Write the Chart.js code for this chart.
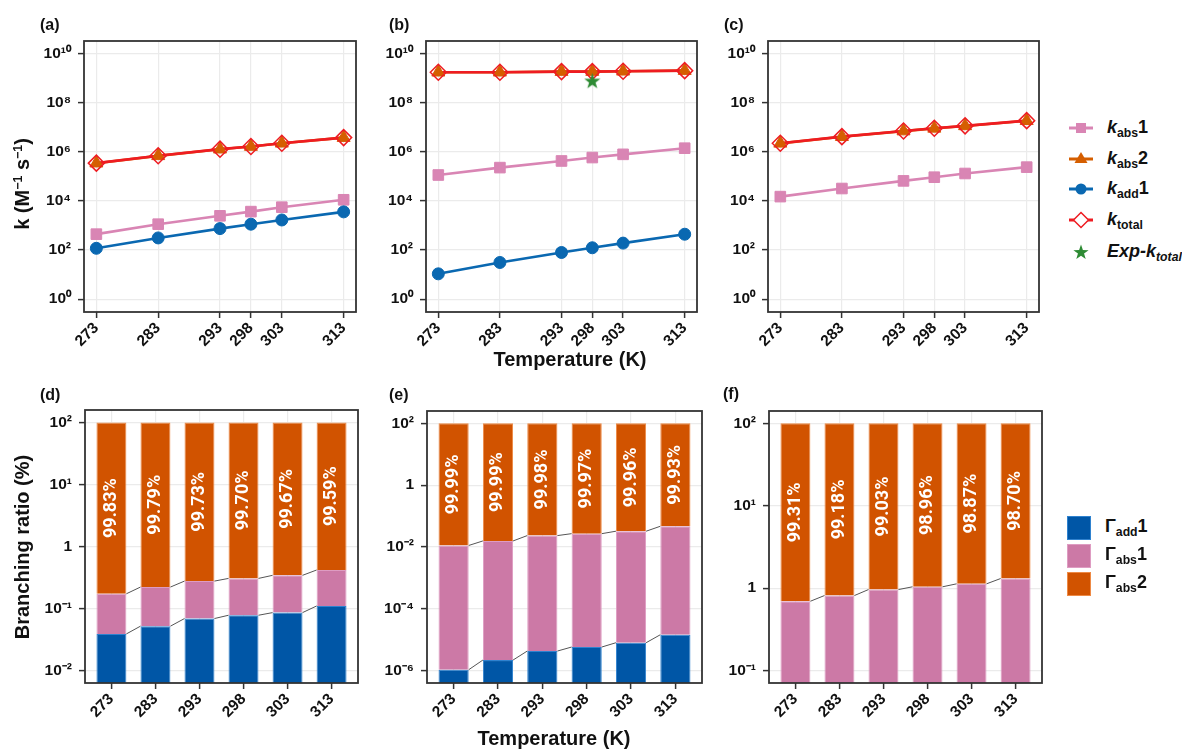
<!DOCTYPE html>
<html><head><meta charset="utf-8">
<script src="https://cdn.jsdelivr.net/npm/chart.js@4.4.1/dist/chart.umd.min.js"></script>
<style>
html,body{margin:0;padding:0;background:#fff;}
body{width:1182px;height:754px;position:relative;overflow:hidden;font-family:"Liberation Sans",Arial,Helvetica,sans-serif;font-weight:bold;color:#111;}
.cv{position:absolute;}
.t{position:absolute;white-space:nowrap;line-height:1;transform:translate(0,-50%);}
.pl{font-size:16px;}
.xt{font-size:20px;transform:translate(-50%,-50%);}
.yt{font-size:20px;transform:translate(-50%,-50%) rotate(-90deg);}
.yt sup{font-size:0.62em;vertical-align:0.55em;}
.row{position:absolute;display:flex;align-items:center;height:26px;font-size:18px;white-space:nowrap;}
.row sub{font-size:0.68em;vertical-align:-0.3em;}
.row i{font-style:italic;}
</style>
</head><body>
<script>
// ---------------- DATA ----------------
const temps = [273, 283, 293, 298, 303, 313];

const kTicks = [1, 1e2, 1e4, 1e6, 1e8, 1e10];
const kTickLabels = ['10⁰', '10²', '10⁴', '10⁶', '10⁸', '10¹⁰'];

// panel (a)
const a_kabs1  = [440, 1120, 2450, 3630, 5500, 11000];
const a_kabs2  = [3.38e5, 6.74e5, 1.25e6, 1.61e6, 2.18e6, 3.70e6];
const a_kadd1  = [117, 309, 741, 1120, 1660, 3550];
const a_ktotal = [3.40e5, 6.77e5, 1.26e6, 1.62e6, 2.19e6, 3.72e6];
// panel (b)
const b_kabs1  = [1.12e5, 2.24e5, 4.17e5, 5.75e5, 7.76e5, 1.38e6];
const b_kabs2  = [1.69e9, 1.69e9, 1.80e9, 1.80e9, 1.85e9, 1.97e9];
const b_kadd1  = [10.7, 31, 79, 123, 190, 437];
const b_ktotal = [1.69e9, 1.69e9, 1.80e9, 1.80e9, 1.85e9, 1.97e9];
const b_expT = [298];
const b_expK = [7.6e8];
// panel (c)
const c_kabs1  = [1.48e4, 3.16e4, 6.46e4, 9.12e4, 1.29e5, 2.34e5];
const c_kabs2  = [2.17e6, 4.04e6, 6.85e6, 8.82e6, 1.11e7, 1.80e7];
const c_ktotal = [2.19e6, 4.07e6, 6.92e6, 8.91e6, 1.12e7, 1.82e7];

// branching ratios (%)
const d_add1 = [0.039, 0.052, 0.069, 0.078, 0.086, 0.11];
const d_abs1 = [0.134, 0.170, 0.208, 0.228, 0.257, 0.308];
const d_abs2 = [99.83, 99.79, 99.73, 99.70, 99.67, 99.59];
const d_ticks = [1e-2, 1e-1, 1, 10, 100];
const d_tickLabels = ['10⁻²', '10⁻¹', '1', '10¹', '10²'];

const e_add1 = [1.07e-6, 2.2e-6, 4.3e-6, 5.8e-6, 8.0e-6, 1.45e-5];
const e_abs1 = [0.0112, 0.0157, 0.0234, 0.0270, 0.0324, 0.0468];
const e_abs2 = [99.99, 99.99, 99.98, 99.97, 99.96, 99.93];
const e_ticks = [1e-6, 1e-4, 1e-2, 1, 100];
const e_tickLabels = ['10⁻⁶', '10⁻⁴', '10⁻²', '1', '10²'];

const f_add1 = [null, null, null, null, null, null];
const f_abs1 = [0.695, 0.815, 0.963, 1.04, 1.13, 1.31];
const f_abs2 = [99.31, 99.18, 99.03, 98.96, 98.87, 98.70];
const f_ticks = [0.1, 1, 10, 100];
const f_tickLabels = ['10⁻¹', '1', '10¹', '10²'];

// ---------------- STYLE / LAYOUT ----------------
const FONT = '"Liberation Sans", Arial, Helvetica, sans-serif';
const COL = {pink:'#D985B4', orange:'#D55E00', blue:'#0A68B1', red:'#EE1C22', green:'#2E8B34',
             barBlue:'#0056A6', barPink:'#CC79A6', barOrange:'#D15300'};
const GEOM = {a:[84,41,356,312], b:[426,41,697,312], c:[768,41,1039,312],
              d:[85,410,358,683], e:[427,411,702,683], f:[769,411,1042,683]};
const YW = 80, PT = 30, PR = 24, XH = 60;

function makeCanvas(id){
  const [L,T,R,B] = GEOM[id];
  const c = document.createElement('canvas');
  c.width = YW + (R-L) + PR; c.height = PT + (B-T) + XH;
  c.className = 'cv';
  c.style.left = (L-YW)+'px'; c.style.top = (T-PT)+'px';
  c.style.width = c.width+'px'; c.style.height = c.height+'px';
  document.body.appendChild(c);
  return c;
}

const boxPlugin = {id:'box', afterDraw(chart){
  const {ctx, chartArea:a} = chart;
  ctx.save(); ctx.strokeStyle = '#333'; ctx.lineWidth = 1.8;
  ctx.strokeRect(a.left, a.top, a.right-a.left, a.bottom-a.top); ctx.restore();
}};

const linkPlugin = {id:'links', afterDatasetsDraw(chart){
  const ctx = chart.ctx;
  ctx.save(); ctx.strokeStyle = '#555'; ctx.lineWidth = 1;
  chart.data.datasets.forEach((ds, di) => {
    if (!ds.link) return;
    const els = chart.getDatasetMeta(di).data;
    for (let i = 0; i < els.length-1; i++){
      if (ds.data[i].y == null || ds.data[i+1].y == null) continue;
      const a = els[i], b = els[i+1];
      ctx.beginPath();
      ctx.moveTo(a.x + a.width/2, Math.min(a.y, a.base));
      ctx.lineTo(b.x - b.width/2, Math.min(b.y, b.base));
      ctx.stroke();
    }
  });
  ctx.restore();
}};

const pctPlugin = {id:'pct', afterDatasetsDraw(chart){
  const ctx = chart.ctx, ys = chart.scales.y;
  chart.data.datasets.forEach((ds, di) => {
    if (!ds.pct) return;
    chart.getDatasetMeta(di).data.forEach((el, i) => {
      const [lo, hi] = ds.data[i].y;
      const py = ys.getPixelForValue(Math.sqrt(lo*hi));
      ctx.save(); ctx.translate(el.x, py); ctx.rotate(-Math.PI/2);
      ctx.fillStyle = '#fff'; ctx.font = 'bold 18px Roboto, "Liberation Sans", sans-serif';
      ctx.textAlign = 'center'; ctx.textBaseline = 'middle';
      ctx.fillText(ds.pct[i].toFixed(2) + '%', 0, 0);
      ctx.restore();
    });
  });
}};

function tickFont(){ return {family: FONT, size: 15.5, weight: 'bold'}; }
function gridOpts(){ return {color:'#EBEBEB', lineWidth:1.2, tickColor:'#333', tickLength:6, tickWidth:1.5, offset:false}; }

function yAxis(min, max, ticks, labels){
  return {type:'logarithmic', min, max,
    afterBuildTicks: ax => { ax.ticks = ticks.map(v => ({value:v})); },
    afterFit: s => { s.width = YW; },
    ticks:{callback:(v,i) => labels[i], font:tickFont(), color:'#111', padding:7, autoSkip:false},
    grid:gridOpts(), border:{display:false}};
}
function xAxisLine(){
  return {type:'linear', min:271, max:315, offset:false,
    afterBuildTicks: ax => { ax.ticks = temps.map(v => ({value:v})); },
    afterFit: s => { s.height = XH; },
    ticks:{callback:v => String(v), minRotation:45, maxRotation:45, autoSkip:false, font:tickFont(), color:'#111', padding:1},
    grid:gridOpts(), border:{display:false}};
}
function xAxisBar(){
  return {type:'linear', min:-0.6, max:5.6, offset:false,
    afterBuildTicks: ax => { ax.ticks = temps.map((t,i) => ({value:i})); },
    afterFit: s => { s.height = XH; },
    ticks:{callback:v => String(temps[v]), minRotation:45, maxRotation:45, autoSkip:false, font:tickFont(), color:'#111', padding:1},
    grid:gridOpts(), border:{display:false}};
}

function starImage(size, color){
  const c = document.createElement('canvas'); c.width = c.height = size;
  const x = c.getContext('2d'); x.fillStyle = color; x.beginPath();
  for (let k = 0; k < 10; k++){
    const r = k%2 ? size*0.2 : size*0.5, ang = -Math.PI/2 + k*Math.PI/5;
    x.lineTo(size/2 + r*Math.cos(ang), size/2 + r*Math.sin(ang) + size*0.04);
  }
  x.closePath(); x.fill(); return c;
}

const SERIES_STYLE = {
  kabs1:{color:COL.pink, style:'rect', r:7.5, fill:COL.pink},
  kabs2:{color:COL.orange, style:'triangle', r:7.5, fill:COL.orange},
  kadd1:{color:COL.blue, style:'circle', r:6, fill:COL.blue},
  ktotal:{color:COL.red, style:'rectRot', r:8, fill:'rgba(255,255,255,0)'}
};

function lineChart(id, series, exp){
  const datasets = [];
  series.forEach((s, k) => {
    const st = SERIES_STYLE[s.key];
    const pts = temps.map((t,i) => ({x:t, y:s.data[i]}));
    datasets.push({label:s.key+' line', data:pts, borderColor:st.color, borderWidth:2.6,
      pointRadius:0, showLine:true, fill:false, order:20-k});
    datasets.push({label:s.key, data:pts, showLine:false, pointStyle:st.style, pointRadius:st.r,
      pointBackgroundColor:st.fill, pointBorderColor:st.color, pointBorderWidth:s.key==='ktotal'?1.5:1, order:10-k});
  });
  if (exp){
    datasets.push({label:'Exp-ktotal', data:exp.t.map((t,i)=>({x:t, y:exp.k[i]})), showLine:false,
      pointStyle:starImage(17, COL.green), pointRadius:8, order:0});
  }
  new Chart(makeCanvas(id), {type:'line', data:{datasets},
    options:{responsive:false, animation:false, events:[],
      layout:{padding:{left:0, top:PT, right:PR, bottom:0}},
      plugins:{legend:{display:false}, tooltip:{enabled:false}},
      scales:{x:xAxisLine(), y:yAxis(Math.pow(10,-0.5), Math.pow(10,10.5), kTicks, kTickLabels)}},
    plugins:[boxPlugin]});
}

function barChart(id, add1, abs1, abs2, yMinExp, yMaxExp, ticks, labels){
  const ymin = Math.pow(10, yMinExp), ymax = Math.pow(10, yMaxExp);
  const blue = temps.map((t,i) => ({x:i, y: add1[i]==null ? null : [ymin, add1[i]]}));
  const pink = temps.map((t,i) => { const b = add1[i]==null ? 0 : add1[i]; return {x:i, y:[add1[i]==null ? ymin : b, b + abs1[i]]}; });
  const orange = temps.map((t,i) => { const b = (add1[i]==null ? 0 : add1[i]) + abs1[i]; return {x:i, y:[b, b + abs2[i]]}; });
  const common = {grouped:false, categoryPercentage:1, barPercentage:0.68, borderWidth:1};
  const datasets = [
    Object.assign({label:'Γadd1', data:blue, backgroundColor:COL.barBlue, borderColor:'#2F82CF', link:true}, common),
    Object.assign({label:'Γabs1', data:pink, backgroundColor:COL.barPink, borderColor:'#DE9CC2', link:true}, common),
    Object.assign({label:'Γabs2', data:orange, backgroundColor:COL.barOrange, borderColor:'#EE8A45', pct:abs2}, common)
  ];
  new Chart(makeCanvas(id), {type:'bar', data:{datasets},
    options:{responsive:false, animation:false, events:[],
      layout:{padding:{left:0, top:PT, right:PR, bottom:0}},
      plugins:{legend:{display:false}, tooltip:{enabled:false}},
      scales:{x:xAxisBar(), y:yAxis(ymin, ymax, ticks, labels)}},
    plugins:[boxPlugin, linkPlugin, pctPlugin]});
}

lineChart('a', [{key:'kabs1', data:a_kabs1}, {key:'kabs2', data:a_kabs2}, {key:'kadd1', data:a_kadd1}, {key:'ktotal', data:a_ktotal}]);
lineChart('b', [{key:'kabs1', data:b_kabs1}, {key:'kabs2', data:b_kabs2}, {key:'kadd1', data:b_kadd1}, {key:'ktotal', data:b_ktotal}], {t:b_expT, k:b_expK});
lineChart('c', [{key:'kabs1', data:c_kabs1}, {key:'kabs2', data:c_kabs2}, {key:'ktotal', data:c_ktotal}]);
barChart('d', d_add1, d_abs1, d_abs2, -2.2, 2.2, d_ticks, d_tickLabels);
barChart('e', e_add1, e_abs1, e_abs2, -6.4, 2.4, e_ticks, e_tickLabels);
barChart('f', f_add1, f_abs1, f_abs2, -1.15, 2.15, f_ticks, f_tickLabels);

// ---------------- TEXT OVERLAYS ----------------
function addText(cls, x, y, html){
  const d = document.createElement('div'); d.className = 't ' + cls;
  d.style.left = x+'px'; d.style.top = y+'px'; d.innerHTML = html; document.body.appendChild(d);
}
addText('pl', 40, 25, '(a)'); addText('pl', 389, 25, '(b)'); addText('pl', 724, 25, '(c)');
addText('pl', 40, 395, '(d)'); addText('pl', 389, 395, '(e)'); addText('pl', 723, 394, '(f)');
addText('yt', 22, 184, 'k (M<sup>−1</sup> s<sup>−1</sup>)');
addText('yt', 22, 547, 'Branching ratio (%)');
addText('xt', 570, 359, 'Temperature (K)');
addText('xt', 554, 738, 'Temperature (K)');

// legends
function legRow(y, svg, html){
  const d = document.createElement('div'); d.className = 'row';
  d.style.left = '1066px'; d.style.top = (y-13)+'px';
  d.innerHTML = svg + '<span style="margin-left:11px">' + html + '</span>';
  document.body.appendChild(d);
}
function lineSym(color, marker){
  return '<svg width="30" height="26" viewBox="0 0 30 26"><line x1="3" y1="13" x2="27" y2="13" stroke="'+color+'" stroke-width="3"/>'+marker+'</svg>';
}
legRow(128, lineSym(COL.pink, '<rect x="10" y="8" width="10" height="10" fill="'+COL.pink+'"/>'), '<i>k</i><sub>abs</sub>1');
legRow(159, lineSym(COL.orange, '<polygon points="15,6 21.5,17 8.5,17" fill="'+COL.orange+'"/>'), '<i>k</i><sub>abs</sub>2');
legRow(189, lineSym(COL.blue, '<circle cx="15" cy="13" r="5.5" fill="'+COL.blue+'"/>'), '<i>k</i><sub>add</sub>1');
legRow(220, lineSym(COL.red, '<polygon points="15,5.5 22.5,13 15,20.5 7.5,13" fill="#fff" stroke="'+COL.red+'" stroke-width="1.5"/>'), '<i>k</i><sub>total</sub>');
(function(){
  let p = []; for (let k=0;k<10;k++){ const r = k%2?3.2:8, a=-Math.PI/2+k*Math.PI/5; p.push((15+r*Math.cos(a)).toFixed(2)+','+(13.6+r*Math.sin(a)).toFixed(2)); }
  legRow(252, '<svg width="30" height="26"><polygon points="'+p.join(' ')+'" fill="'+COL.green+'"/></svg>', '<i>Exp-k<sub>total</sub></i>');
})();
function sqSym(color, edge){
  return '<svg width="26" height="26"><rect x="1.5" y="1.5" width="23" height="23" fill="'+color+'" stroke="'+edge+'" stroke-width="1"/></svg>';
}
function legRow2(y, svg, html){
  const d = document.createElement('div'); d.className = 'row';
  d.style.left = '1066px'; d.style.top = (y-13)+'px';
  d.innerHTML = svg + '<span style="margin-left:13px">' + html + '</span>';
  document.body.appendChild(d);
}
legRow2(527.5, sqSym(COL.barBlue, '#2F82CF'), 'Γ<sub>add</sub>1');
legRow2(555.5, sqSym(COL.barPink, '#DE9CC2'), 'Γ<sub>abs</sub>1');
legRow2(583.5, sqSym(COL.barOrange, '#EE8A45'), 'Γ<sub>abs</sub>2');
</script>
</body></html>
